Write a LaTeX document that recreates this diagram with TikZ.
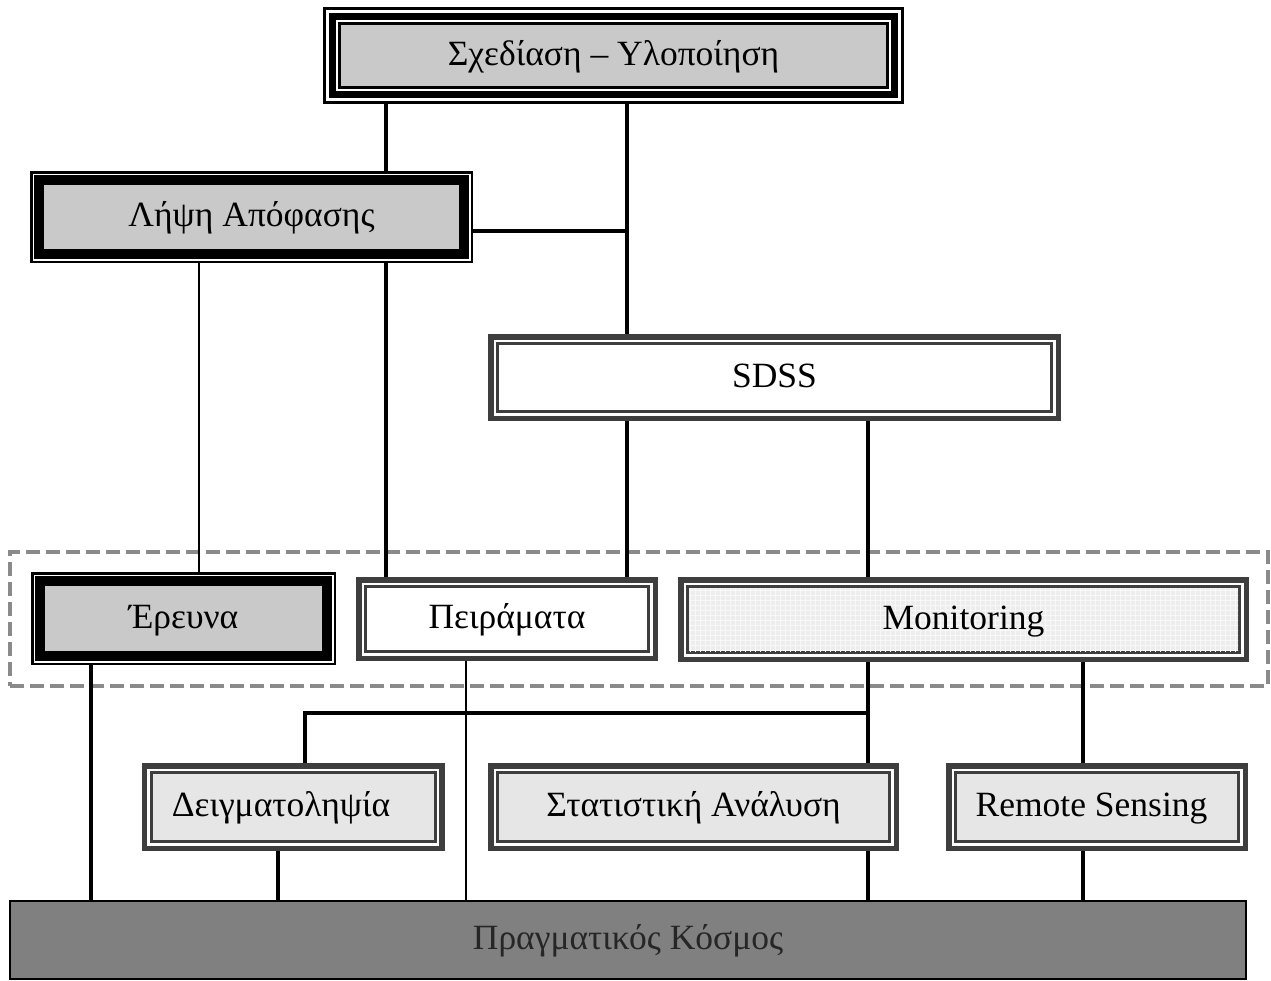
\documentclass[tikz,border=0pt]{standalone}
\usepackage{fontspec}
\setmainfont{Liberation Serif}
\pgfdeclarelayer{frames}
\pgfsetlayers{frames,main}

\definecolor{boxgray}{HTML}{C9C9C9}
\definecolor{palegray}{HTML}{E6E6E6}
\definecolor{gridfill}{HTML}{EDEDED}
\definecolor{framedark}{HTML}{3E3E3E}
\definecolor{earth}{HTML}{808080}
\definecolor{dashgray}{HTML}{8A8A8A}

% fill a rectangle inset by #2 inside node #1 with colour #3
\newcommand\insetfill[3]{%
  \fill[#3] ([shift={(#2,#2)}]#1.north west) rectangle ([shift={(-#2,-#2)}]#1.south east);}

% thin black, white, thick black, then grey
\newcommand\heavyframe[2]{%
  \insetfill{#1}{0}{black}\insetfill{#1}{2.5}{white}%
  \insetfill{#1}{4}{black}\insetfill{#1}{14}{#2}}
% dark band, white hairline, dark line, then the fill
\newcommand\tripleframe[2]{%
  \insetfill{#1}{0}{framedark}\insetfill{#1}{5.5}{white}%
  \insetfill{#1}{8}{framedark}\insetfill{#1}{11}{#2}}

\begin{document}
\begin{tikzpicture}[x=1pt,y=-1pt,
  every node/.style={font=\fontsize{35.5}{42}\selectfont},
  box/.style={rectangle,inner sep=0pt,outer sep=0pt,text height=26pt,text depth=7pt},
  link/.style={line width=3.4pt},
  thinlink/.style={line width=2.6pt}]
\useasboundingbox (0,0) rectangle (1271,980);

% boxes (outer extents)
\node[box,minimum width=581pt,minimum height=97pt] (plan) at (613.5,55.5) {Σχεδίαση – Υλοποίηση};
\node[box,minimum width=443pt,minimum height=92pt] (decide) at (251.5,217) {Λήψη Απόφασης};
\node[box,minimum width=573pt,minimum height=87pt] (sdss) at (774.5,377.5) {SDSS};
\node[box,minimum width=1258pt,minimum height=134pt,draw=dashgray,line width=3.5pt,
      dash pattern=on 14pt off 6pt] (group) at (639,619) {};
\node[box,minimum width=305pt,minimum height=93pt] (research) at (183.5,618.5) {Έρευνα};
\node[box,minimum width=302pt,minimum height=84pt] (trials) at (507,619) {Πειράματα};
\node[box,minimum width=571pt,minimum height=85pt] (monitor) at (963.5,619.5) {Monitoring};
\node[box,minimum width=303pt,minimum height=88pt] (sampling) at (293,807) {Δειγματοληψία\hspace{24pt}\null};
\node[box,minimum width=411pt,minimum height=88pt] (stats) at (693.5,807) {Στατιστική Ανάλυση};
\node[box,minimum width=302pt,minimum height=88pt] (remote) at (1097,807) {Remote Sensing\hspace{11pt}\null};
\node[box,minimum width=1236pt,minimum height=78pt,fill=earth,draw=black,line width=2pt,
      text=black!85] (world) at (628,940) {Πραγματικός Κόσμος};

% frames behind the labels
\begin{pgfonlayer}{frames}
  \insetfill{plan}{0}{black}\insetfill{plan}{3}{white}
  \insetfill{plan}{6}{black}\insetfill{plan}{13}{white}
  \insetfill{plan}{15}{black}\insetfill{plan}{18}{boxgray}
  \heavyframe{decide}{boxgray}
  \heavyframe{research}{boxgray}
  \tripleframe{sdss}{white}
  \tripleframe{trials}{white}
  \tripleframe{monitor}{gridfill}
  \begin{scope}
    \clip ([shift={(11,11)}]monitor.north west) rectangle ([shift={(-11,-11)}]monitor.south east);
    \draw[white!60!gridfill,line width=0.6pt,step=5pt]
      (monitor.north west) grid (monitor.south east);
  \end{scope}
  \tripleframe{sampling}{palegray}
  \tripleframe{stats}{palegray}
  \tripleframe{remote}{palegray}
\end{pgfonlayer}

% column positions of the connectors
\coordinate (xa) at (91,0);
\coordinate (xb) at (199,0);
\coordinate (xc) at (278,0);
\coordinate (xd) at (305,0);
\coordinate (xe) at (386,0);
\coordinate (xf) at (466,0);
\coordinate (xg) at (627,0);
\coordinate (xh) at (868,0);
\coordinate (xi) at (1083,0);
\coordinate (split) at (868,713);

% connectors
\draw[link] (plan.south -| xe) -- (decide.north -| xe);
\draw[link] (plan.south -| xg) -- (sdss.north -| xg);
\draw[link] ([yshift=-14pt]decide.east) -- ([yshift=-14pt]decide.east -| xg);
\draw[thinlink] (decide.south -| xb) -- (research.north -| xb);
\draw[link] (decide.south -| xe) -- (trials.north -| xe);
\draw[link] (sdss.south -| xg) -- (trials.north -| xg);
\draw[link] (sdss.south -| xh) -- (monitor.north -| xh);
\draw[link] (monitor.south -| xh) -- (stats.north -| xh);
\draw[link] (monitor.south -| xi) -- (remote.north -| xi);
\draw[link] (sampling.north -| xd) |- (split);
\draw[link] (research.south -| xa) -- (world.north -| xa);
\draw[thinlink] (trials.south -| xf) -- (world.north -| xf);
\draw[link] (sampling.south -| xc) -- (world.north -| xc);
\draw[link] (stats.south -| xh) -- (world.north -| xh);
\draw[link] (remote.south -| xi) -- (world.north -| xi);
\end{tikzpicture}
\end{document}
